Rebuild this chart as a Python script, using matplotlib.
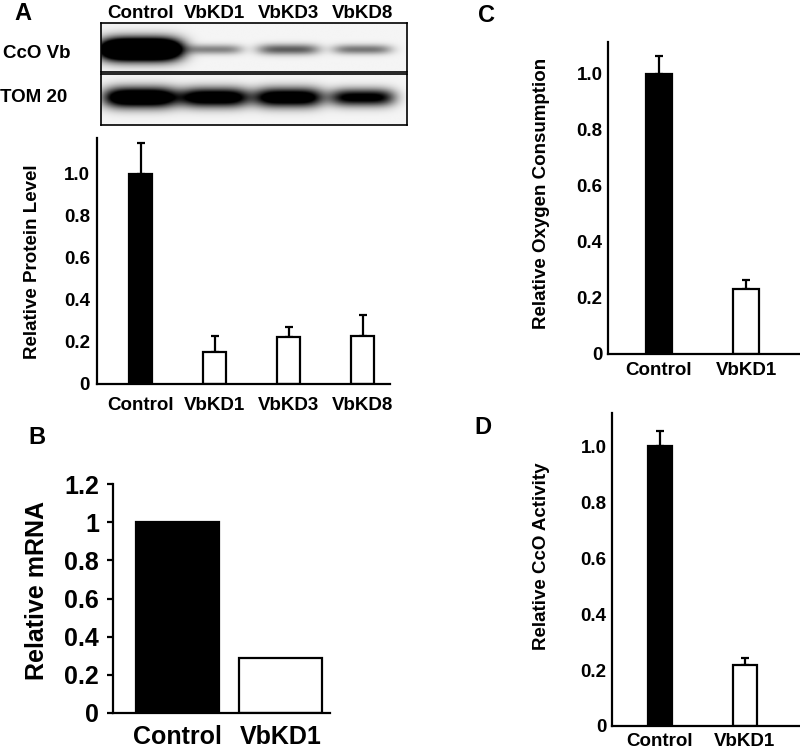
import numpy as np
import matplotlib.pyplot as plt

plt.rcParams['font.family'] = ['Liberation Sans', 'DejaVu Sans']
plt.rcParams['font.weight'] = 'bold'

W, H = 800, 751
fig = plt.figure(figsize=(8, 7.51), dpi=100)

# ---- data ----
lanes = ['Control', 'VbKD1', 'VbKD3', 'VbKD8']
protein = [1.0, 0.15, 0.225, 0.23]
protein_err = [0.145, 0.08, 0.048, 0.097]
cco_band = [2.5, 0.45, 0.6, 0.5]      # band darkness on the blot
tom_band = [1.5, 1.3, 1.3, 1.1]

groups = ['Control', 'VbKD1']
mrna = [1.0, 0.29]
oxygen = [1.0, 0.232]
oxygen_err = [0.064, 0.032]
activity = [1.0, 0.218]
activity_err = [0.054, 0.025]

ticks_a = [0, 0.2, 0.4, 0.6, 0.8, 1.0]
ticklabels_a = ['0', '0.2', '0.4', '0.6', '0.8', '1.0']
ticks_b = [0, 0.2, 0.4, 0.6, 0.8, 1.0, 1.2]
ticklabels_b = ['0', '0.2', '0.4', '0.6', '0.8', '1', '1.2']


def box(l, t, r, b):
    # axes placed by pixel edges
    return fig.add_axes([l / W, 1 - b / H, (r - l) / W, (b - t) / H])


def bars(ax, names, vals, err, width, fs, xpad, ypad):
    x = np.arange(len(names))
    cols = ['black'] + ['white'] * (len(names) - 1)
    if err is not None:
        ax.errorbar(x, vals, yerr=[np.zeros(len(vals)), err], fmt='none',
                    ecolor='black', elinewidth=1.6, capsize=3, capthick=1.6, zorder=1)
    ax.bar(x, vals, width, color=cols, edgecolor='black', linewidth=1.6, zorder=2)
    for s in ['top', 'right']:
        ax.spines[s].set_visible(False)
    for s in ['left', 'bottom']:
        ax.spines[s].set_linewidth(1.6)
    ax.set_xticks(x)
    ax.set_xticklabels(names, fontsize=fs, fontweight='bold')
    ax.tick_params(axis='x', length=0, pad=xpad)
    ax.tick_params(axis='y', length=0, pad=ypad, labelsize=fs)
    for lab in ax.get_yticklabels():
        lab.set_fontweight('bold')
    ax.patch.set_alpha(0)


# ---- panel A: blot ----
def blot(ax, amps, widths, yc, heights):
    xs = np.linspace(-0.534, 3.6, 400)
    ys = np.linspace(0, 1, 80)
    X, Y = np.meshgrid(xs, ys)
    img = np.zeros_like(X)
    for i, (a, w, h) in enumerate(zip(amps, widths, heights)):
        img += a * np.exp(-((X - i) / w) ** 4) * np.exp(-((Y - yc) / h) ** 2)
    img = np.clip(img + 0.04, 0, 1)
    ax.imshow(img, cmap='gray_r', vmin=0, vmax=1, aspect='auto',
              extent=[-0.534, 3.6, 0, 1], origin='lower', interpolation='bilinear')
    ax.set_xlim(-0.534, 3.6)
    ax.set_ylim(0, 1)
    ax.set_yticks([])
    for s in ax.spines.values():
        s.set_linewidth(1.2)


ax_b1 = box(101, 23, 407, 72)
blot(ax_b1, cco_band, [0.55, 0.38, 0.42, 0.4], 0.46, [0.22, 0.1, 0.11, 0.1])
ax_b1.xaxis.tick_top()
ax_b1.set_xticks(range(len(lanes)))
ax_b1.set_xticklabels(lanes, fontsize=13.5, fontweight='bold')
ax_b1.tick_params(axis='x', length=0, pad=1)

ax_b2 = box(101, 74, 407, 125)
blot(ax_b2, tom_band, [0.5, 0.47, 0.47, 0.44], 0.54, [0.2, 0.19, 0.19, 0.17])
ax_b2.set_xticks([])

fig.text(37 / W, 1 - 53 / H, 'CcO Vb', fontsize=13.5, fontweight='bold', ha='center', va='center')
fig.text(34 / W, 1 - 98 / H, 'TOM 20', fontsize=13.5, fontweight='bold', ha='center', va='center')

# ---- panel A: bars ----
axA = box(97, 138, 390, 384)
bars(axA, lanes, protein, protein_err, 0.32, 13.5, 9, 5)
axA.set_xlim(-0.588, 3.37)
axA.set_ylim(0, 1.171)
axA.set_yticks(ticks_a)
axA.set_yticklabels(ticklabels_a, fontweight='bold')

# ---- panel B ----
axB = box(113, 484, 330, 713)
bars(axB, groups, mrna, None, 0.8, 18, 9, 6)
axB.set_xlim(-0.626, 1.48)
axB.set_ylim(0, 1.2)
axB.set_yticks(ticks_b)
axB.set_yticklabels(ticklabels_b, fontweight='bold')
axB.tick_params(axis='y', length=4, width=1.6, direction='out')

# ---- panel C ----
axC = box(608, 42, 800, 354)
bars(axC, groups, oxygen, oxygen_err, 0.3, 13.5, 6, 4)
axC.set_xlim(-0.586, 1.62)
axC.set_ylim(0, 1.114)
axC.set_yticks(ticks_a)
axC.set_yticklabels(ticklabels_a, fontweight='bold')

# ---- panel D ----
axD = box(612, 413, 800, 726)
bars(axD, groups, activity, activity_err, 0.29, 13.5, 5, 4)
axD.set_xlim(-0.565, 1.65)
axD.set_ylim(0, 1.118)
axD.set_yticks(ticks_a)
axD.set_yticklabels(ticklabels_a, fontweight='bold')

# ---- axis titles and panel letters ----
ylabels = [('Relative Protein Level', 33, 262, 13.5),
           ('Relative mRNA', 37, 590, 18),
           ('Relative Oxygen Consumption', 542, 193, 13.5),
           ('Relative CcO Activity', 542, 556, 13.5)]
for txt, x, y, fs in ylabels:
    fig.text(x / W, 1 - y / H, txt, rotation=90, fontsize=fs, fontweight='bold',
             ha='center', va='center')

letters = [('A', 23, 13), ('B', 37, 438), ('C', 486, 16), ('D', 483, 428)]
for txt, x, y in letters:
    fig.text(x / W, 1 - y / H, txt, fontsize=17, fontweight='bold', ha='center', va='center')

fig.savefig('out.png', dpi=100)
